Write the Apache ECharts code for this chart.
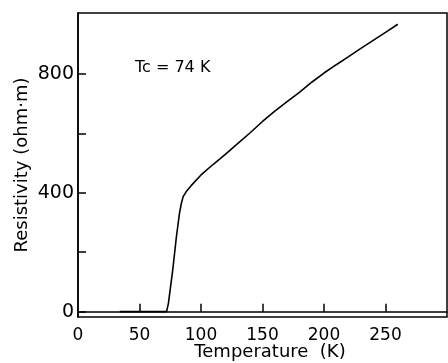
<!DOCTYPE html>
<html>
<head>
<meta charset="utf-8">
<script src="https://cdn.jsdelivr.net/npm/echarts@6/dist/echarts.min.js"></script>
<style>
  html, body { margin: 0; padding: 0; background: #fff; }
  #chart { width: 448px; height: 363px; }
</style>
</head>
<body>
<div id="chart"></div>
<script>
// temperature (K) and resistivity
const temperature = [34, 72, 73.5, 77, 80, 82.5, 84, 85.5, 88, 92, 100, 110, 120, 130, 140, 150, 160, 170, 180, 190, 200, 210, 220, 230, 240, 250, 260]
const resistivity = [0, 0, 28, 140, 252, 331, 364, 387, 404, 424, 460, 496, 530, 566, 602, 640, 675, 707, 738, 772, 803, 831, 858, 886, 913, 940, 967]

// axis ticks and labels
const xTicks = [50, 100, 150, 200, 250]
const xLabels = [0, 50, 100, 150, 200, 250]
const yTicks = [0, 200, 400, 600, 800]
const yLabels = [0, 400, 800]

const font = 'DejaVu Sans'

const chart = echarts.init(document.getElementById('chart'))

const option = {
  animation: false,
  backgroundColor: '#fff',
  grid: {
    left: 78,
    right: 1,
    top: 13,
    bottom: 46,
    containLabel: false,
    outerBoundsMode: 'none',
    show: true,
    borderColor: '#000',
    borderWidth: 1.5
  },
  xAxis: {
    type: 'value',
    min: 0,
    max: 300,
    name: 'Temperature  (K)',
    nameLocation: 'middle',
    nameGap: 26,
    nameMoveOverlap: false,
    nameTextStyle: { color: '#000', fontFamily: font, fontSize: 18, padding: [0, 0, 0, 15] },
    axisLine: { lineStyle: { color: '#000', width: 1.5 } },
    axisTick: { inside: true, length: 8, customValues: xTicks, lineStyle: { color: '#000', width: 1.5 } },
    axisLabel: { customValues: xLabels, margin: 10, color: '#000', fontFamily: font, fontSize: 17 },
    splitLine: { show: false }
  },
  yAxis: {
    type: 'value',
    min: -18,
    max: 1005,
    name: 'Resistivity (ohm·m)',
    nameLocation: 'middle',
    nameGap: 47,
    nameMoveOverlap: false,
    nameTextStyle: { color: '#000', fontFamily: font, fontSize: 18 },
    axisLine: { lineStyle: { color: '#000', width: 1.5 } },
    axisTick: { inside: true, length: 8, customValues: yTicks, lineStyle: { color: '#000', width: 1.5 } },
    axisLabel: { customValues: yLabels, margin: 4, color: '#000', fontFamily: font, fontSize: 19 },
    splitLine: { show: false }
  },
  graphic: [
    {
      type: 'text',
      left: 135,
      top: 60,
      style: { text: 'Tc = 74 K', fill: '#000', font: '16px "DejaVu Sans"' }
    }
  ],
  series: [
    {
      type: 'line',
      data: temperature.map((t, i) => [t, resistivity[i]]),
      showSymbol: false,
      lineStyle: { color: '#000', width: 1.6 }
    }
  ]
}

chart.setOption(option)
</script>
</body>
</html>
